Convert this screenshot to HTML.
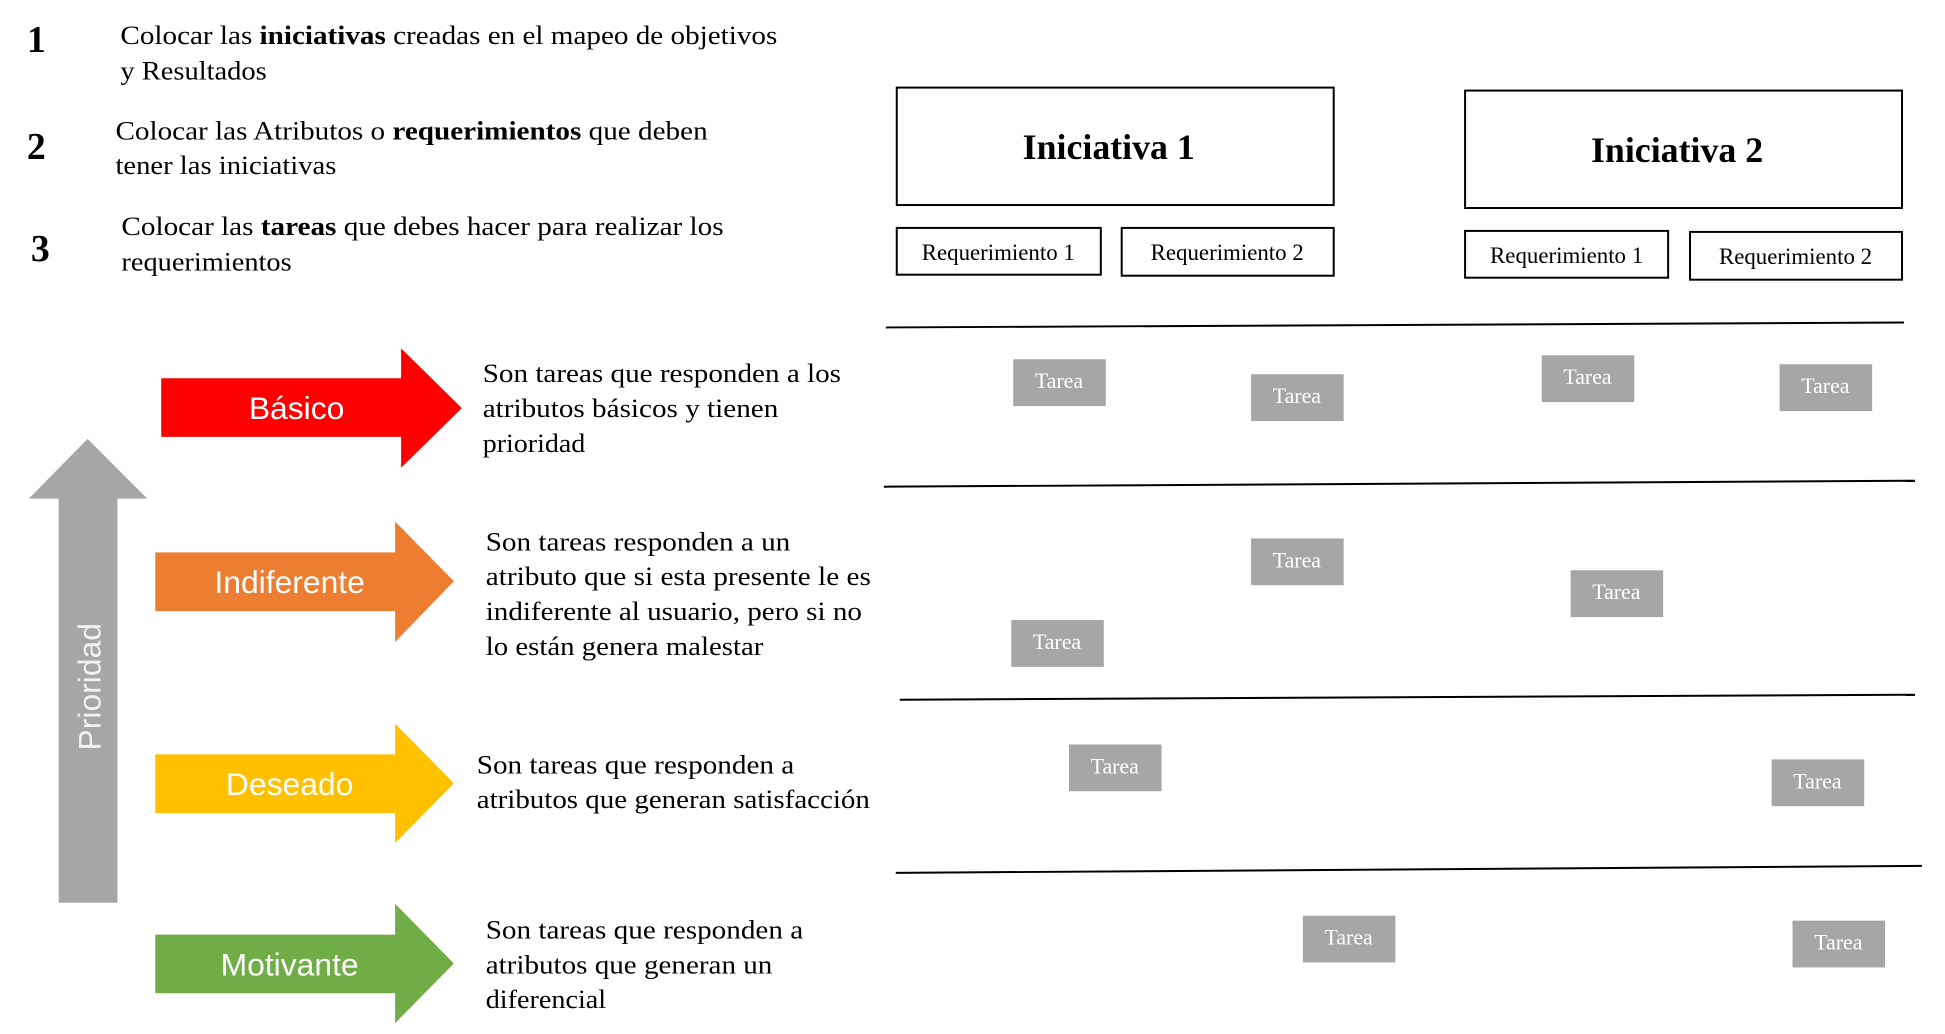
<!DOCTYPE html>
<html><head><meta charset="utf-8"><style>html,body{margin:0;padding:0;background:#fff;width:1945px;height:1034px;overflow:hidden}</style></head>
<body>
<svg width="1945" height="1034" viewBox="0 0 1945 1034" xmlns="http://www.w3.org/2000/svg">
<g transform="scale(0.9953)">
<g font-family="Liberation Serif, serif" fill="#000">
<text x="27" y="52" font-size="38" font-weight="bold">1</text>
<text x="27" y="160" font-size="38" font-weight="bold">2</text>
<text x="31" y="262" font-size="38" font-weight="bold">3</text>
<g font-size="26">
<text x="121" y="44" textLength="660" lengthAdjust="spacingAndGlyphs">Colocar  las <tspan font-weight="bold">iniciativas</tspan> creadas  en el mapeo de objetivos</text>
<text x="121" y="80" textLength="147" lengthAdjust="spacingAndGlyphs">y Resultados</text>
<text x="116" y="140" textLength="595" lengthAdjust="spacingAndGlyphs">Colocar  las Atributos  o <tspan font-weight="bold">requerimientos</tspan>  que deben</text>
<text x="116" y="175" textLength="222" lengthAdjust="spacingAndGlyphs">tener las iniciativas</text>
<text x="122" y="236" textLength="605" lengthAdjust="spacingAndGlyphs">Colocar  las <tspan font-weight="bold">tareas</tspan> que debes hacer para realizar  los</text>
<text x="122" y="272" textLength="171" lengthAdjust="spacingAndGlyphs">requerimientos</text>

<text x="485" y="384" textLength="360" lengthAdjust="spacingAndGlyphs">Son tareas que responden  a los</text>
<text x="485" y="419" textLength="297" lengthAdjust="spacingAndGlyphs">atributos  básicos  y tienen</text>
<text x="485" y="454" textLength="103" lengthAdjust="spacingAndGlyphs">prioridad</text>

<text x="488" y="553" textLength="306" lengthAdjust="spacingAndGlyphs">Son tareas responden  a un</text>
<text x="488" y="588" textLength="387" lengthAdjust="spacingAndGlyphs">atributo  que si esta presente  le es</text>
<text x="488" y="623" textLength="378" lengthAdjust="spacingAndGlyphs">indiferente  al usuario,  pero si no</text>
<text x="488" y="658" textLength="279" lengthAdjust="spacingAndGlyphs">lo están genera  malestar</text>

<text x="479" y="777" textLength="319" lengthAdjust="spacingAndGlyphs">Son tareas que responden  a</text>
<text x="479" y="812" textLength="395" lengthAdjust="spacingAndGlyphs">atributos  que generan  satisfacción</text>

<text x="488" y="943" textLength="319" lengthAdjust="spacingAndGlyphs">Son tareas que responden  a</text>
<text x="488" y="978" textLength="288" lengthAdjust="spacingAndGlyphs">atributos  que generan  un</text>
<text x="488" y="1013" textLength="121" lengthAdjust="spacingAndGlyphs">diferencial</text>
</g>
</g>

<g fill="#fff" stroke="#000" stroke-width="2">
<rect x="901" y="88" width="439" height="118"/>
<rect x="1472" y="91" width="439" height="118"/>
<rect x="901" y="229" width="205" height="47"/>
<rect x="1127" y="229" width="213" height="48"/>
<rect x="1472" y="232" width="204" height="47"/>
<rect x="1698" y="233" width="213" height="48"/>
</g>
<g font-family="Liberation Serif, serif" fill="#000" text-anchor="middle">
<text x="1114" y="160" font-size="36" font-weight="bold">Iniciativa 1</text>
<text x="1685" y="163" font-size="36" font-weight="bold">Iniciativa 2</text>
<g font-size="23">
<text x="1003" y="261">Requerimiento 1</text>
<text x="1233" y="261">Requerimiento 2</text>
<text x="1574" y="264">Requerimiento 1</text>
<text x="1804" y="265">Requerimiento 2</text>
</g>
</g>

<g stroke="#000" stroke-width="2">
<line x1="890" y1="329" x2="1913" y2="324"/>
<line x1="888" y1="489" x2="1924" y2="483"/>
<line x1="904" y1="703" x2="1924" y2="698"/>
<line x1="900" y1="877" x2="1931" y2="870"/>
</g>

<g fill="#a6a6a6">
<rect x="1018" y="361" width="93" height="47"/>
<rect x="1257" y="376" width="93" height="47"/>
<rect x="1549" y="357" width="93" height="47"/>
<rect x="1788" y="366" width="93" height="47"/>
<rect x="1257" y="541" width="93" height="47"/>
<rect x="1578" y="573" width="93" height="47"/>
<rect x="1016" y="623" width="93" height="47"/>
<rect x="1074" y="748" width="93" height="47"/>
<rect x="1780" y="763" width="93" height="47"/>
<rect x="1309" y="920" width="93" height="47"/>
<rect x="1801" y="925" width="93" height="47"/>
</g>
<g font-family="Liberation Serif, serif" font-size="22" fill="#fff" text-anchor="middle">
<text x="1064" y="390">Tarea</text>
<text x="1303" y="405">Tarea</text>
<text x="1595" y="386">Tarea</text>
<text x="1834" y="395">Tarea</text>
<text x="1303" y="570">Tarea</text>
<text x="1624" y="602">Tarea</text>
<text x="1062" y="652">Tarea</text>
<text x="1120" y="777">Tarea</text>
<text x="1826" y="792">Tarea</text>
<text x="1355" y="949">Tarea</text>
<text x="1847" y="954">Tarea</text>
</g>

<polygon points="59,907 118,907 118,501 148,501 88,441 29,501 59,501" fill="#a6a6a6"/>
<text transform="translate(101,690) rotate(-90)" text-anchor="middle" font-family="Liberation Sans, sans-serif" font-size="32" fill="#f2f2f2">Prioridad</text>

<polygon points="162,380 403,380 403,350 464,410 403,470 403,439 162,439" fill="#ff0000"/>
<polygon points="156,555 397,555 397,524 456,584 397,645 397,614 156,614" fill="#ed7d31"/>
<polygon points="156,758 397,758 397,727 456,787 397,847 397,817 156,817" fill="#ffc000"/>
<polygon points="156,939 397,939 397,908 456,968 397,1028 397,998 156,998" fill="#70ad47"/>
<g font-family="Liberation Sans, sans-serif" font-size="32" fill="#fff" text-anchor="middle">
<text x="298" y="421">Básico</text>
<text x="291" y="596">Indiferente</text>
<text x="291" y="799">Deseado</text>
<text x="291" y="980">Motivante</text>
</g>
</g>
</svg>
</body></html>
